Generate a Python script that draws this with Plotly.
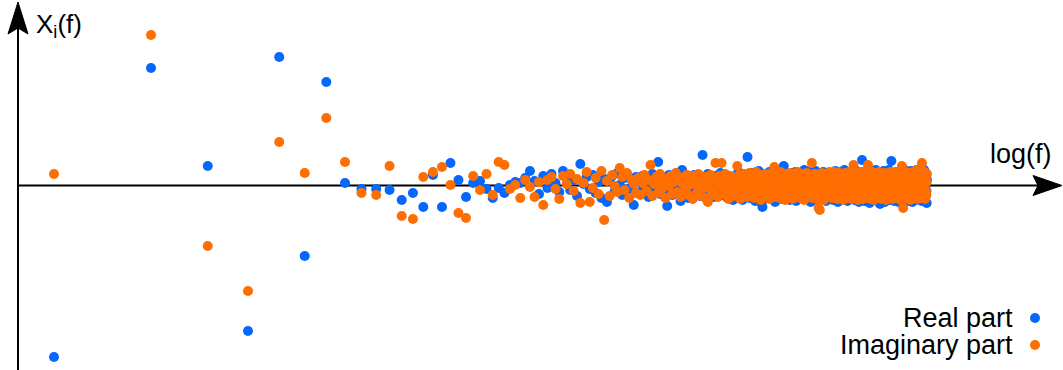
import plotly.graph_objects as go

# Fourier coefficients X_i(f) for f = 1 .. 512, plotted against log(f)
freq = list(range(1, 513))

# Real part, f = 1..30
real_low = [-171, 118, 20, -145, 129, -70, 104, 3, -3, -3,
            -4, -14, -7, -21, 11, -21, 23, 6, -11, 3,
            5, -3, -12, -2, -7, 1, 4, 3, 8, 15]
# Real part, f = 31..64
real_31_64 = [5, -8, 10, -2, 12, 3, -6, 15, 8, -4,
              6, -10, 22, 2, 9, -3, 11, -7, 4, -12,
              7, -16, 5, 10, -5, 13, 1, -9, 8, 12,
              -3, 6, -19, 9]
# Real part, f = 65..128
real_65_128 = [4, -6, 10, -2, 7, -11, 3, 12, -4, 6,
               24, -8, 9, 1, -5, -20, 11, 2, -9, 7,
               -3, 13, 0, -15, 16, -6, 5, 10, -12, 3,
               8, -2, 11, -7, 4, 9, -10, 2, 31, -4,
               6, -13, 12, 1, -8, 7, 3, -11, 10, -1,
               5, -6, 13, 2, -9, 8, -3, 11, -12, 4,
               9, -5, 6, -14]
# Real part, f = 129..256
real_129_256 = [-3, 9, -11, 5, 14, -7, 2, 12, -14, 6, -2, 10, -9, 29, 4, -12,
                8, -5, 13, -1, 7, -15, 11, 3, -8, 15, -4, 6, -17, -21, 9, -6,
                12, 1, -10, 7, -3, 14, -12, 5, 10, -7, 2, 13, -16, 8, -2, 11,
                -9, 4, 15, -5, 9, -13, 1, 20, -8, 6, 12, -11, 3, -4, 10, -14,
                7, -1, 13, -9, 5, 11, -6, 14, -15, 2, 9, -3, 12, -10, 6, 0,
                -12, 10, 4, -7, 16, -2, 8, -13, 11, 3, -9, 14, -5, 7, -16, 1,
                12, -8, 5, 10, -11, 2, 15, -4, 9, -14, 6, -1, 13, -10, 3, 11,
                -6, 8, -13, 14, 0, -9, 10, 4, -15, 7, 12, -3, 9, -12, 5, -7]
# Real part, f = 257..512
real_257_512 = [4, -9, 12, -3, 8, -14, 10, 1, -7, 15, -11, 6, -2, 13, -16, 9,
                -5, 11, 2, -12, 7, 14, -8, 3, -13, 10, -1, 16, -10, 5, 12, -6,
                8, -15, 3, 11, -4, 13, -11, 7, 0, -9, 14, -13, 6, 10, -3, 12,
                -14, 4, 9, -7, 15, -2, 11, -12, 5, 8, -16, 2, 13, -5, 10, -10,
                7, 26, -8, 12, -1, 9, -15, 6, 14, -11, 3, 10, -6, 13, -13, 1,
                11, -4, 8, -17, 15, -9, 5, 12, -2, 10, -14, 7, 3, -10, 13, -6,
                9, -12, 16, 0, -8, 11, 6, -15, 12, -3, 8, -11, 14, -18, 4, 10,
                -7, 13, -13, 2, 9, -5, 15, -10, 6, 11, -16, 1, 12, -8, 7, -3,
                14, -12, 5, 10, -9, 16, -4, 8, -14, 3, 11, -6, 25, -11, 9, 2,
                -13, 12, -1, 7, -15, 13, 4, -8, 10, -10, 6, 14, -12, 1, 11, -5,
                8, -16, 13, -2, 9, -11, 15, 3, -7, 12, -13, 6, 10, -4, 14, -9,
                2, 11, -14, 7, 16, -6, 9, -12, 5, 13, -1, -10, 8, 12, -15, 4,
                10, -8, 14, -3, 6, -13, 11, 1, -11, 15, -5, 9, -16, 7, 12, -2,
                -9, 13, 4, -12, 10, 8, -6, 14, -14, 3, 11, -7, 16, -10, 5, 12,
                -4, 9, -13, 13, 0, -9, 15, 6, -11, 10, -2, 14, -15, 7, 11, -6,
                8, -12, 12, 2, -8, 16, -14, 5, 10, -3, 13, -10, 9, -5, -17, 6]

# Imaginary part, f = 1..30
imag_low = [12, 151, -60, -105, 44, 13, 68, 24, -7, -9,
            20, -30, -33, 9, 14, 19, 1, -27, -32, 10,
            -4, 12, -9, 24, 21, -3, 1, -12, 6, -1]
# Imaginary part, f = 31..64
imag_31_64 = [-11, 4, -19, 6, 9, -3, -13, 10, 2, 12,
              -5, 7, -17, 3, 14, -16, -2, 8, -8, 15,
              -34, 5, -10, 11, 0, -6, 18, 9, -4, 13,
              -12, 6, 2, -7]
# Imaginary part, f = 65..128
imag_65_128 = [8, -9, 3, 11, -5, 6, 21, -10, 2, 9,
               -7, 12, -3, 5, -12, 7, 0, 10, -8, 4,
               13, -6, 9, -11, 3, 8, -4, 11, -9, 1,
               6, -13, 10, 2, -7, 12, 5, -10, 7, -2,
               9, -12, -16, 4, 11, -5, 8, -9, 23, 3,
               -11, 10, -1, 23, -8, 6, 12, -4, 7, -13,
               2, 10, -6, 5]
# Imaginary part, f = 129..256
imag_129_256 = [6, -10, 3, 20, -5, 11, -13, 7, 1, -8, 12, -3, 9, -11, 4, 13,
                -7, 10, -2, 8, -12, 5, 14, -9, 2, -4, 11, -14, 6, 9, -6, 3,
                12, -10, 7, -1, 10, -13, 4, 13, -8, 8, 2, 19, -11, 6, -5, 11,
                -2, 9, -12, 14, 3, -7, 10, -4, 7, -14, 12, 1, -9, 8, 5, -11,
                13, -3, 6, -13, 10, 2, -8, 11, -5, 7, 14, -10, 3, 9, -12, 4,
                12, -6, 8, -1, -14, 10, 5, -9, 13, -4, 7, -11, 11, 2, -7, 9,
                23, -12, 6, 10, -3, 12, -9, 4, -13, 8, 11, -22, 1, -24, 9, -6,
                13, -10, 5, 8, -14, 11, -2, 7, -12, 12, 3, -8, 10, -5, 14, -11]
# Imaginary part, f = 257..512
imag_257_512 = [-8, 11, 3, -12, 9, 6, -5, 14, -10, 2, 12, -7, 8, -13, 5, 10,
                -2, 13, -11, 7, 4, -9, 12, -4, 10, -14, 6, 1, -8, 13, -6, 9,
                11, -12, 5, 8, -3, 14, -10, 2, 12, -7, 9, -13, 6, 10, 21, -5,
                7, -11, 13, 3, -9, 11, -4, 8, -14, 5, 12, -1, 10, -12, 6, 14,
                -6, 9, -13, 11, 2, -8, 13, -3, 7, -10, 12, 4, -12, 9, -5, 21,
                6, -9, 12, -2, 10, -13, 8, 3, -11, 14, -6, 7, 11, -14, 1, 9,
                -7, 12, 5, -10, 13, -3, 8, -12, 10, 2, -8, 14, -5, 11, -11, 6,
                9, -13, 12, 1, -6, 10, -10, 13, 4, -9, 11, -2, 8, -14, 7, 12,
                -4, 10, -12, 6, 13, -8, 3, 11, -11, 9, -1, 14, -7, 5, 12, -13,
                8, -5, 13, -10, 2, 11, -9, 7, 12, -3, 10, -12, 6, 14, -6, 9,
                -11, 4, 12, -8, 13, -2, 8, -14, 10, 5, -7, 20, -10, 11, 3, -22,
                9, -9, 12, -4, 7, -13, 14, 1, -6, 10, -11, 13, 5, -8, 11, -12,
                6, 9, -3, 12, -10, 8, -14, 13, 2, -7, 11, -11, 10, 4, -9, 14,
                -5, 12, -12, 7, 9, -2, 13, -10, 6, 11, 16, -8, 10, -13, 3, 12,
                -6, 9, -11, 14, 1, -9, 12, -4, 8, -12, 10, 5, -7, 23, -10, 11,
                13, -3, 7, -11, 12, 2, -8, 14, -13, 6, 10, -5, 11, -9, 4, 12]

real_part = real_low + real_31_64 + real_65_128 + real_129_256 + real_257_512
imag_part = imag_low + imag_31_64 + imag_65_128 + imag_129_256 + imag_257_512
assert len(real_part) == len(freq) and len(imag_part) == len(freq)

BLUE = "#0468ff"
ORANGE = "#ff6e00"
FONT = "Liberation Sans, Arial, sans-serif"
W, H = 1063, 370


def px(x):
    return x / W


def py(y):
    return 1 - y / H


fig = go.Figure()
fig.add_trace(go.Scatter(x=freq, y=real_part, mode="markers", name="Real part",
                         marker=dict(size=10, color=BLUE, line=dict(width=0))))
fig.add_trace(go.Scatter(x=freq, y=imag_part, mode="markers", name="Imaginary part",
                         marker=dict(size=10, color=ORANGE, line=dict(width=0))))

axis_line = dict(color="black", width=2)
shapes = [
    # vertical axis with arrow head
    dict(type="line", xref="paper", yref="paper", x0=px(18), x1=px(18),
         y0=py(370), y1=py(28), line=axis_line, layer="below"),
    dict(type="path", xref="paper", yref="paper",
         path=f"M {px(18)},{py(2)} L {px(28)},{py(34)} L {px(18)},{py(28)} "
              f"L {px(8)},{py(34)} Z",
         fillcolor="black", line=dict(color="black", width=1), layer="below"),
    # horizontal axis with arrow head
    dict(type="line", xref="paper", yref="paper", x0=px(18), x1=px(1040),
         y0=py(185.5), y1=py(185.5), line=axis_line, layer="below"),
    dict(type="path", xref="paper", yref="paper",
         path=f"M {px(1062)},{py(185.5)} L {px(1033)},{py(175.5)} L {px(1038)},{py(185.5)} "
              f"L {px(1033)},{py(195.5)} Z",
         fillcolor="black", line=dict(color="black", width=1), layer="below"),
    # legend symbols
    dict(type="circle", xref="paper", yref="paper", x0=px(1030), x1=px(1040),
         y0=py(313), y1=py(323), fillcolor=BLUE, line=dict(width=0)),
    dict(type="circle", xref="paper", yref="paper", x0=px(1030), x1=px(1040),
         y0=py(340), y1=py(350), fillcolor=ORANGE, line=dict(width=0)),
]

annotations = [
    dict(text="X<sub>i</sub>(f)", x=px(34), y=py(26), xref="paper", yref="paper",
         xanchor="left", yanchor="middle", showarrow=False,
         font=dict(family=FONT, size=26, color="black")),
    dict(text="log(f)", x=px(1054), y=py(154), xref="paper", yref="paper",
         xanchor="right", yanchor="middle", showarrow=False,
         font=dict(family=FONT, size=27, color="black")),
    dict(text="Real part", x=px(1015), y=py(318), xref="paper", yref="paper",
         xanchor="right", yanchor="middle", showarrow=False,
         font=dict(family=FONT, size=27, color="black")),
    dict(text="Imaginary part", x=px(1015), y=py(345), xref="paper", yref="paper",
         xanchor="right", yanchor="middle", showarrow=False,
         font=dict(family=FONT, size=27, color="black")),
]

fig.update_layout(
    width=W, height=H, autosize=False,
    margin=dict(l=0, r=0, t=0, b=0),
    paper_bgcolor="white", plot_bgcolor="white",
    showlegend=False,
    xaxis=dict(type="log", range=[-0.1676, 3.1315], visible=False),
    yaxis=dict(range=[-184, 186], visible=False),
    shapes=shapes, annotations=annotations,
)

fig.write_html("out.html", config={"displayModeBar": False})
